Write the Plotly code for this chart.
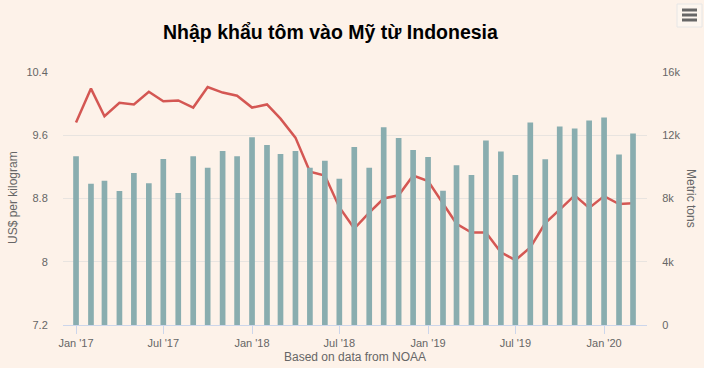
import plotly.graph_objects as go
import pandas as pd

months = pd.date_range("2017-01-01", "2020-03-01", freq="MS")

price_usd_per_kg = [
    9.76, 10.19, 9.84, 10.01, 9.99, 10.15, 10.03, 10.04, 9.95, 10.21, 10.14, 10.10,
    9.95, 9.99, 9.81, 9.57, 9.14, 9.09, 8.69, 8.42, 8.62, 8.80, 8.84, 9.09,
    9.02, 8.73, 8.48, 8.37, 8.37, 8.12, 8.02, 8.18, 8.49, 8.66, 8.84, 8.68,
    8.83, 8.73, 8.74,
]

volume_tons = [
    10670, 8930, 9120, 8470, 9620, 8970, 10500, 8350, 10670, 9940, 11000, 10670,
    11880, 11380, 10820, 11000, 9940, 10380, 9250, 11260, 9940, 12510, 11820, 11070,
    10620, 8490, 10100, 9480, 11670, 10980, 9480, 12800, 10480, 12550, 12430, 12930,
    13120, 10790, 12110,
]

tick_dates = ["2017-01-01", "2017-07-01", "2018-01-01", "2018-07-01",
              "2019-01-01", "2019-07-01", "2020-01-01"]
tick_labels = ["Jan '17", "Jul '17", "Jan '18", "Jul '18", "Jan '19", "Jul '19", "Jan '20"]

BG = "#fdf2e9"
BAR = "#89adaf"
LINE = "#d45753"
GRID = "#e8e4e0"
TXT = "#666666"
FONT = "Liberation Sans, Arial, sans-serif"

fig = go.Figure()
fig.add_trace(go.Bar(x=months, y=volume_tons, yaxis="y2", marker_color=BAR,
                     marker_line_width=0, name="Metric tons"))
fig.add_trace(go.Scatter(x=months, y=price_usd_per_kg, yaxis="y", mode="lines",
                         line=dict(color=LINE, width=2.5), name="US$ per kilogram"))

L, R, T, B = 63, 647, 72, 325
W, H = 704, 368


def px(xp):
    return (xp - L) / (R - L)


def py(yp):
    return (B - yp) / (B - T)


fig.update_layout(
    width=W, height=H,
    margin=dict(l=L, r=W - R, t=T, b=H - B, autoexpand=False),
    paper_bgcolor=BG, plot_bgcolor=BG,
    showlegend=False,
    bargap=0.58,
    font=dict(family=FONT, color=TXT, size=11),
    xaxis=dict(
        type="date", automargin=False,
        range=["2016-12-05", "2020-03-30"],
        tickvals=tick_dates, ticktext=tick_labels,
        ticks="outside", ticklen=8, tickcolor="#ccd6eb", tickwidth=1,
        showline=True, linecolor="#ccd6eb", linewidth=1,
        showgrid=False, zeroline=False,
        tickfont=dict(size=11, color=TXT),
    ),
    yaxis=dict(
        automargin=False,
        range=[7.2, 10.4],
        tickvals=[7.2, 8, 8.8, 9.6, 10.4],
        ticktext=["7.2", "8", "8.8", "9.6", "10.4"],
        showgrid=True, gridcolor=GRID, gridwidth=1, zeroline=False,
        ticks="outside", ticklen=12, tickcolor="rgba(0,0,0,0)",
        tickfont=dict(size=11, color=TXT),
    ),
    yaxis2=dict(
        automargin=False,
        range=[0, 16000], overlaying="y", side="right",
        tickvals=[0, 4000, 8000, 12000, 16000],
        ticktext=["0", "4k", "8k", "12k", "16k"],
        showgrid=False, zeroline=False,
        ticks="outside", ticklen=12, tickcolor="rgba(0,0,0,0)",
        tickfont=dict(size=11, color=TXT),
    ),
)

ann = dict(xref="paper", yref="paper", showarrow=False, xanchor="center", yanchor="middle")
# title
fig.add_annotation(text="<b>Nhập khẩu tôm vào Mỹ từ Indonesia</b>",
                   x=px(330), y=py(32),
                   font=dict(family=FONT, size=19.5, color="#000000"), **ann)
# axis titles
fig.add_annotation(text="Based on data from NOAA", x=px(355), y=py(357),
                   font=dict(size=12, color=TXT), **ann)
fig.add_annotation(text="US$ per kilogram", x=px(13), y=py(198), textangle=-90,
                   font=dict(size=12, color=TXT), **ann)
fig.add_annotation(text="Metric tons", x=px(691), y=py(198), textangle=90,
                   font=dict(size=12, color=TXT), **ann)

# export menu icon
fig.add_shape(type="rect", xref="paper", yref="paper",
              x0=px(677), x1=px(702), y0=py(4), y1=py(27),
              line=dict(color="#e6e6e6", width=1), fillcolor="rgba(255,255,255,0.3)")
for yy in [10, 15, 20]:
    fig.add_shape(type="line", xref="paper", yref="paper",
                  x0=px(682), x1=px(697), y0=py(yy), y1=py(yy),
                  line=dict(color="#666666", width=3))

fig.write_html(
    "out.html",
    config={"displayModeBar": False},
    post_script="document.body.style.margin='0';document.body.style.overflow='hidden';",
)
